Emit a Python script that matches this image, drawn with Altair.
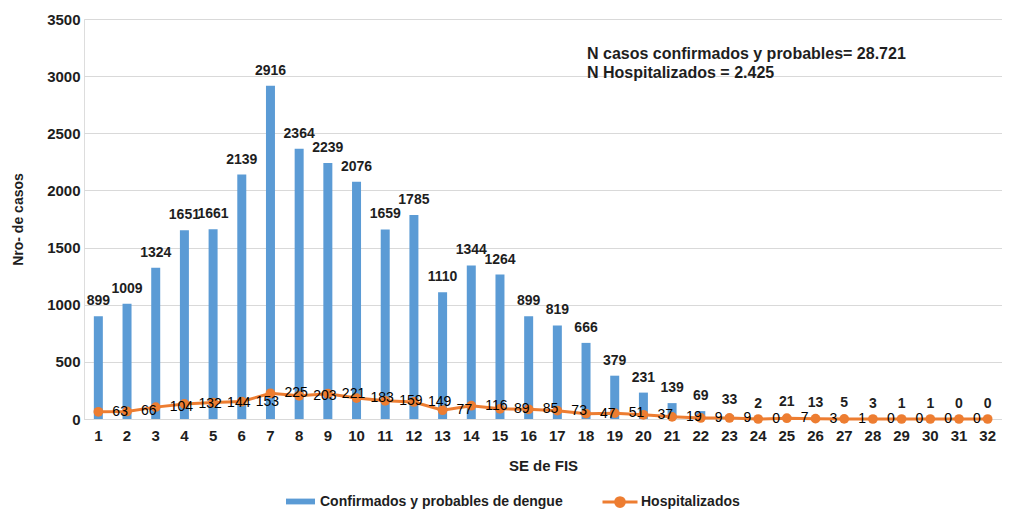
import altair as alt
import pandas as pd

semanas = list(range(1, 33))
confirmados = [899, 1009, 1324, 1651, 1661, 2139, 2916, 2364, 2239, 2076, 1659, 1785,
               1110, 1344, 1264, 899, 819, 666, 379, 231, 139, 69, 33, 2, 21, 13, 5, 3,
               1, 1, 0, 0]
hospitalizados = [63, 66, 104, 132, 144, 153, 225, 203, 221, 183, 159, 149, 77, 116,
                  89, 85, 73, 47, 51, 37, 19, 9, 9, 0, 7, 3, 1, 0, 0, 0, 0, 0]
serie_conf = "Confirmados y probables de dengue"
serie_hosp = "Hospitalizados"
anotacion = ["N casos confirmados y probables= 28.721", "N Hospitalizados = 2.425"]
y_ticks = [0, 500, 1000, 1500, 2000, 2500, 3000, 3500]

BLUE = "#5B9BD5"
ORANGE = "#ED7D31"
TXT = "#1e1e1e"
FONT = "Liberation Sans"

df = pd.DataFrame({
    "semana": semanas,
    "conf": confirmados,
    "hosp": hospitalizados,
    "serie_c": serie_conf,
    "serie_h": serie_hosp,
})

x = alt.X("semana:O", title="SE de FIS",
          scale=alt.Scale(paddingInner=0, paddingOuter=0),
          axis=alt.Axis(labelAngle=0, labelFont=FONT, labelFontSize=15, labelFontWeight="bold",
                        labelColor=TXT, labelPadding=9, ticks=False, domainColor="#d9d9d9",
                        domainWidth=1, grid=False, titleFont=FONT, titleFontSize=15,
                        titleFontWeight="bold", titleColor=TXT, titleY=46,
                        titleBaseline="middle"))

base = alt.Chart(df)

bars = base.mark_bar(size=9).encode(
    x=x,
    y=alt.Y("conf:Q", title="Nro- de casos",
            scale=alt.Scale(domain=[0, 3500], nice=False),
            axis=alt.Axis(values=y_ticks, format="d", labelFont=FONT, labelFontSize=15,
                          labelFontWeight="bold", labelColor=TXT, labelPadding=4,
                          ticks=False, domain=False, gridColor="#d9d9d9", gridWidth=1,
                          titleFont=FONT, titleFontSize=14, titleFontWeight="bold",
                          titleColor=TXT, titleX=-66, titleY=200, titleAngle=270,
                          titleBaseline="middle", titleAlign="center")),
    color=alt.Color("serie_c:N",
                    scale=alt.Scale(domain=[serie_conf], range=[BLUE]),
                    legend=alt.Legend(title=None, orient="none", legendX=202, legendY=468,
                                      direction="horizontal",
                                      symbolType="M-1,-0.2H1V0.2H-1Z", symbolSize=841,
                                      symbolStrokeWidth=0, labelFont=FONT,
                                      labelFontSize=14, labelFontWeight="bold",
                                      labelColor=TXT, labelOffset=5, labelLimit=400,
                                      padding=0)),
)

bar_labels = base.mark_text(dy=-15, baseline="middle", font=FONT, fontSize=14,
                            fontWeight="bold", color=TXT).encode(
    x="semana:O", y="conf:Q", text="conf:Q")

line = base.mark_line(strokeWidth=3).encode(
    x="semana:O", y="hosp:Q",
    stroke=alt.Stroke("serie_h:N",
                      scale=alt.Scale(domain=[serie_hosp], range=[ORANGE]),
                      legend=alt.Legend(title=None, orient="none", legendX=517, legendY=464,
                                        direction="horizontal",
                                        symbolType="M-1,0H1M0.25,0A0.25,0.25,0,1,1,-0.25,0A0.25,0.25,0,1,1,0.25,0Z",
                                        symbolSize=1225, symbolStrokeWidth=3,
                                        symbolFillColor=ORANGE, labelFont=FONT,
                                        labelFontSize=14, labelFontWeight="bold",
                                        labelColor=TXT, labelOffset=2, labelLimit=400,
                                        padding=0)),
)

points = base.mark_circle(size=95, color=ORANGE, opacity=1).encode(
    x="semana:O", y="hosp:Q")

hosp_labels = base.transform_filter("datum.semana < 32").mark_text(
    align="left", dx=14, baseline="middle", font=FONT, fontSize=14, color="#000000").encode(
    x="semana:O", y="hosp:Q", text="hosp:Q")

annot = alt.Chart(pd.DataFrame({"a": [0]})).mark_text(
    text=anotacion, align="left", baseline="top", font=FONT, fontSize=16,
    fontWeight="bold", color=TXT, lineHeight=19).encode(
    x=alt.value(503), y=alt.value(27))

chart = alt.layer(bars, bar_labels, line, points, hosp_labels, annot).properties(
    width=918, height=400,
    padding={"left": 76, "top": 11, "right": 0, "bottom": 91},
    autosize=alt.AutoSizeParams(type="none"),
).configure_view(stroke=None).configure(background="white")

chart.save("out.html", embed_options={"renderer": "svg", "actions": False})
